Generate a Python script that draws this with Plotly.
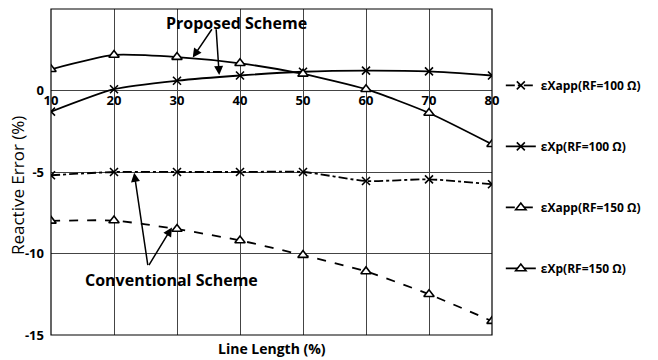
import plotly.graph_objects as go

line_length = [10, 20, 30, 40, 50, 60, 70, 80]
exapp_100 = [-5.2, -5.0, -5.0, -5.0, -5.0, -5.55, -5.45, -5.75]
exp_100 = [-1.3, 0.08, 0.6, 0.92, 1.15, 1.22, 1.17, 0.92]
exapp_150 = [-8.0, -7.98, -8.5, -9.2, -10.1, -11.1, -12.5, -14.15]
exp_150 = [1.3, 2.18, 2.05, 1.67, 1.02, 0.08, -1.38, -3.3]

y_ticks = [5, 0, -5, -10, -15]
x_ticks = [10, 20, 30, 40, 50, 60, 70, 80]

FONT = "Open Sans"

fig = go.Figure()

def add(y, name, dash, symbol):
    tri = symbol.startswith("triangle")
    fig.add_trace(go.Scatter(
        x=line_length, y=y, name=f"<b>{name}</b>", mode="lines+markers",
        line=dict(color="black", width=1.8, dash=dash, shape="spline", smoothing=0.6),
        marker=dict(symbol=symbol, size=9 if tri else 8,
                    color="white" if tri else "black",
                    line=dict(color="black", width=1.6)),
        legendgroup=name,
    ))

add(exapp_100, "εXapp(RF=100 Ω)", "dashdot", "x-thin")
add(exp_100, "εXp(RF=100 Ω)", "solid", "x-thin")
add(exapp_150, "εXapp(RF=150 Ω)", "dash", "triangle-up")
add(exp_150, "εXp(RF=150 Ω)", "solid", "triangle-up")

# annotation geometry (data coordinates)
prop_text = (39.4, 4.15)
prop_tail = [(35.7, 3.85), (36.2, 3.85)]
prop_tips = [(32.5, 2.02), (36.7, 0.95)]
conv_text = (29.2, -11.6)
conv_tail = (25.4, -10.8)
conv_tips = [(23.2, -5.05), (29.2, -8.4)]

fig.add_annotation(x=prop_text[0], y=prop_text[1], text="<b>Proposed Scheme</b>",
                   showarrow=False, font=dict(family=FONT, size=16, color="black"))
fig.add_annotation(x=conv_text[0], y=conv_text[1], text="<b>Conventional Scheme</b>",
                   showarrow=False, font=dict(family=FONT, size=16, color="black"))
for tail, tip in zip(prop_tail, prop_tips):
    fig.add_annotation(x=tip[0], y=tip[1], ax=tail[0], ay=tail[1], axref="x", ayref="y",
                       text="", showarrow=True, arrowhead=2, arrowsize=1.2,
                       arrowwidth=1.5, arrowcolor="black")
for tip in conv_tips:
    fig.add_annotation(x=tip[0], y=tip[1], ax=conv_tail[0], ay=conv_tail[1], axref="x", ayref="y",
                       text="", showarrow=True, arrowhead=2, arrowsize=1.2,
                       arrowwidth=1.5, arrowcolor="black")

fig.add_shape(type="rect", xref="paper", yref="paper", x0=0, x1=1, y0=0, y1=1,
              line=dict(color="black", width=1.2), layer="above")

fig.update_layout(
    width=658, height=360,
    margin=dict(l=51, r=166, t=9, b=25, autoexpand=False),
    paper_bgcolor="white", plot_bgcolor="white",
    font=dict(family=FONT, size=13, color="black"),
    showlegend=True,
    legend=dict(x=1.02, y=0.81, xanchor="left", yanchor="top",
                tracegroupgap=42, font=dict(family=FONT, size=12),
                bgcolor="rgba(0,0,0,0)"),
    xaxis=dict(range=[10, 80], tickvals=x_ticks, ticktext=[f"<b>{v}</b>" for v in x_ticks],
               showgrid=True, gridcolor="#444", gridwidth=1, zeroline=False,
               showline=False, anchor="free", position=0.75, ticks="",
               tickfont=dict(family=FONT, size=13, color="black")),
    yaxis=dict(range=[-15, 5], tickvals=y_ticks, ticktext=[f"<b>{v}</b>" for v in y_ticks],
               showgrid=True, gridcolor="#444", gridwidth=1, zeroline=False,
               showline=False, ticks="", ticklabelstandoff=6,
               tickfont=dict(family=FONT, size=13, color="black")),
)
fig.add_annotation(x=-0.077, y=0.457, xref="paper", yref="paper", textangle=-90,
                   xanchor="center", yanchor="middle",
                   text="Reactive Error (%)", showarrow=False,
                   font=dict(family=FONT, size=17, color="black"))
fig.add_annotation(x=0.50, y=-0.04, xref="paper", yref="paper", yanchor="middle",
                   text="<b>Line Length (%)</b>", showarrow=False,
                   font=dict(family=FONT, size=14, color="black"))

fig.write_html("out.html")
